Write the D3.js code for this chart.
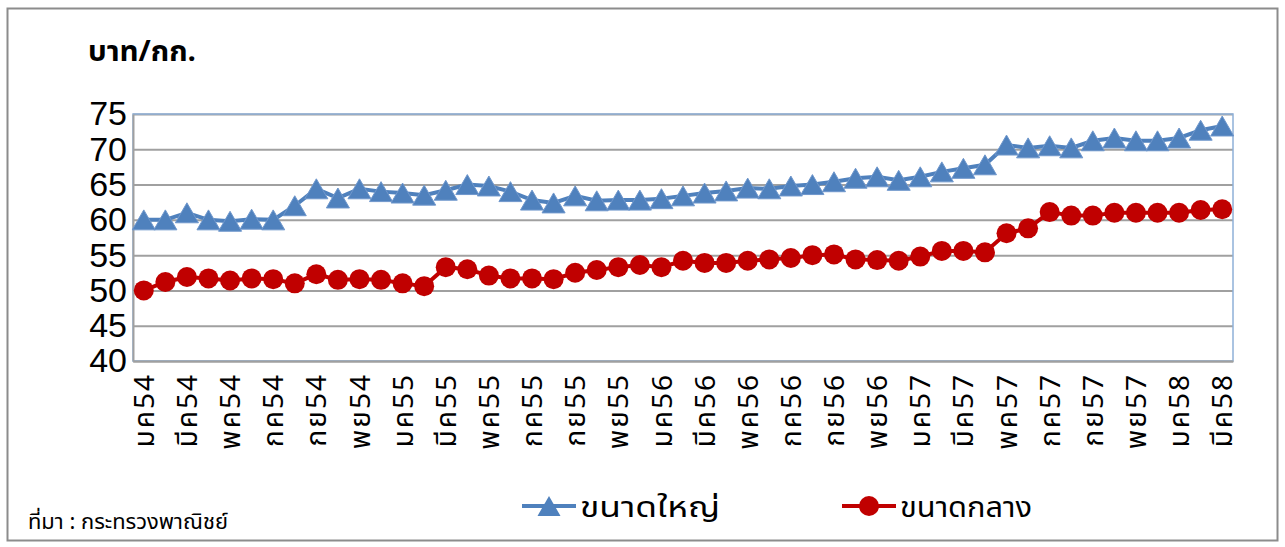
<!DOCTYPE html>
<html>
<head>
<meta charset="utf-8">
<script src="https://cdn.jsdelivr.net/npm/d3@7/dist/d3.min.js"></script>
<style>
  body { margin: 0; background: #fff; }
  svg { display: block; }
  .thai { font-family: Tahoma, "Noto Sans Thai", "Noto Sans", sans-serif; }
</style>
</head>
<body>
<div class="container"></div>
<script>
// เดือน (ม.ค. 54 - มี.ค. 58)
var monthNames = ['มค', 'กพ', 'มีค', 'เมย', 'พค', 'มิย', 'กค', 'สค', 'กย', 'ตค', 'พย', 'ธค'];
var years = ['54', '55', '56', '57', '58'];
var months = [];
years.forEach(function (yr) {
  monthNames.forEach(function (m) { months.push(m + yr); });
});
months = months.slice(0, 51);

// ราคา ขนาดใหญ่ (บาท/กก.)
var large = [
  60.0, 60.0, 61.0, 60.0, 59.8, 60.1, 60.0, 62.0, 64.4, 63.1, 64.4, 64.0,
  63.8, 63.5, 64.2, 65.0, 64.8, 64.0, 62.8, 62.4, 63.4, 62.7, 62.8, 62.8,
  63.0, 63.4, 63.8, 64.1, 64.5, 64.4, 64.8, 65.0, 65.4, 65.9, 66.1, 65.6,
  66.1, 66.8, 67.3, 67.8, 70.6, 70.2, 70.5, 70.2, 71.2, 71.6, 71.2, 71.2,
  71.6, 72.7, 73.3
];

// ราคา ขนาดกลาง (บาท/กก.)
var medium = [
  50.0, 51.2, 51.9, 51.7, 51.4, 51.7, 51.6, 51.0, 52.3, 51.5, 51.6, 51.5,
  51.0, 50.6, 53.3, 53.0, 52.1, 51.7, 51.7, 51.6, 52.5, 52.9, 53.3, 53.6,
  53.3, 54.2, 53.9, 53.9, 54.2, 54.4, 54.6, 55.0, 55.1, 54.4, 54.3, 54.2,
  54.8, 55.6, 55.6, 55.4, 58.1, 58.8, 61.1, 60.6, 60.6, 61.0, 61.0, 61.0,
  61.0, 61.4, 61.5
];

var yTicks = [40, 45, 50, 55, 60, 65, 70, 75];

var W = 1285, H = 547;
var pLeft = 133, pRight = 1233, pTop = 114, pBottom = 361;

var svg = d3.select('.container').append('svg')
  .attr('width', W)
  .attr('height', H);

// outer frame
svg.append('rect')
  .attr('x', 7.5).attr('y', 8.5)
  .attr('width', 1270).attr('height', 532)
  .attr('fill', '#fff')
  .attr('stroke', '#8c8c8c')
  .attr('stroke-width', 2);

var x = d3.scaleBand().domain(months).range([pLeft, pRight]);
var y = d3.scaleLinear().domain([40, 75]).range([pBottom, pTop]);
var cx = function (i) { return x(months[i]) + x.bandwidth() / 2; };

// gridlines
svg.append('g')
  .attr('transform', 'translate(' + pLeft + ',0)')
  .call(d3.axisLeft(y).tickValues(yTicks).tickSize(-(pRight - pLeft)).tickFormat(''))
  .call(function (g) {
    g.select('.domain').remove();
    g.selectAll('line').attr('stroke', '#a0a0a0').attr('stroke-width', 2);
  });

// plot area border (blue-ish top/right)
svg.append('rect')
  .attr('x', pLeft).attr('y', pTop)
  .attr('width', pRight - pLeft).attr('height', pBottom - pTop)
  .attr('fill', 'none')
  .attr('stroke', '#8eb0d8')
  .attr('stroke-width', 1.5);

// y axis
svg.append('g')
  .attr('transform', 'translate(' + pLeft + ',0)')
  .call(d3.axisLeft(y).tickValues(yTicks).tickSize(0).tickPadding(6))
  .call(function (g) {
    g.select('.domain').attr('stroke', '#a0a0a0').attr('stroke-width', 2);
    g.selectAll('text')
      .attr('font-family', '"Liberation Sans", Arial, sans-serif')
      .attr('font-size', 34)
      .attr('fill', '#000');
  });

// x axis
svg.append('g')
  .attr('transform', 'translate(0,' + pBottom + ')')
  .call(d3.axisBottom(x)
    .tickValues(months.filter(function (d, i) { return i % 2 === 0; }))
    .tickSize(0))
  .call(function (g) {
    g.select('.domain').attr('stroke', '#a0a0a0').attr('stroke-width', 2);
    g.selectAll('text')
      .attr('class', 'thai')
      .attr('font-size', 28)
      .attr('letter-spacing', 2)
      .attr('fill', '#000')
      .attr('transform', 'rotate(-90)')
      .attr('text-anchor', 'end')
      .attr('x', -12)
      .attr('y', 0)
      .attr('dy', '0.36em');
  });

// lines
var line = function (vals) {
  return d3.line()
    .x(function (d, i) { return cx(i); })
    .y(function (d) { return y(d); })(vals);
};

svg.append('path')
  .attr('d', line(large))
  .attr('fill', 'none')
  .attr('stroke', '#4f81bd')
  .attr('stroke-width', 4);

svg.append('path')
  .attr('d', line(medium))
  .attr('fill', 'none')
  .attr('stroke', '#c00000')
  .attr('stroke-width', 4);

// triangle marker, shifted so its bounding box is centred on the point
var triSize = 230;
var tri = d3.symbol().type(d3.symbolTriangle).size(triSize);
var triShift = Math.sqrt(triSize / (Math.sqrt(3) / 4)) * Math.sqrt(3) / 2 / 6;

svg.append('g').selectAll('path')
  .data(large)
  .enter()
  .append('path')
  .attr('d', tri)
  .attr('transform', function (d, i) { return 'translate(' + cx(i) + ',' + (y(d) + triShift) + ')'; })
  .attr('fill', '#4f81bd')
  .attr('stroke', '#6f97cc')
  .attr('stroke-width', 1);

svg.append('g').selectAll('circle')
  .data(medium)
  .enter()
  .append('circle')
  .attr('cx', function (d, i) { return cx(i); })
  .attr('cy', function (d) { return y(d); })
  .attr('r', 10)
  .attr('fill', '#c00000');

// unit label
svg.append('text')
  .attr('class', 'thai')
  .attr('x', 88).attr('y', 61)
  .attr('font-size', 28)
  .attr('font-weight', 'bold')
  .attr('textLength', 108)
  .attr('lengthAdjust', 'spacingAndGlyphs')
  .text('บาท/กก.');

// legend
var legend = [
  {name: 'ขนาดใหญ่', color: '#4f81bd', x: 522, shape: 'tri', w: 140},
  {name: 'ขนาดกลาง', color: '#c00000', x: 842, shape: 'circle', w: 132}
];
var lg = svg.append('g').selectAll('g')
  .data(legend)
  .enter()
  .append('g')
  .attr('transform', function (d) { return 'translate(' + d.x + ',506)'; });

lg.append('line')
  .attr('x1', 0).attr('x2', 54)
  .attr('stroke', function (d) { return d.color; })
  .attr('stroke-width', 4);

lg.each(function (d) {
  var g = d3.select(this);
  if (d.shape === 'tri') {
    g.append('path').attr('d', tri).attr('transform', 'translate(27,' + triShift + ')').attr('fill', d.color);
  } else {
    g.append('circle').attr('cx', 27).attr('r', 10).attr('fill', d.color);
  }
});

lg.append('text')
  .attr('class', 'thai')
  .attr('x', 58).attr('y', 11)
  .attr('font-size', 28)
  .attr('textLength', function (d) { return d.w; })
  .attr('lengthAdjust', 'spacingAndGlyphs')
  .text(function (d) { return d.name; });

// source
svg.append('text')
  .attr('class', 'thai')
  .attr('x', 28).attr('y', 529)
  .attr('font-size', 21)
  .attr('textLength', 200)
  .attr('lengthAdjust', 'spacingAndGlyphs')
  .text('ที่มา : กระทรวงพาณิชย์');
</script>
</body>
</html>
